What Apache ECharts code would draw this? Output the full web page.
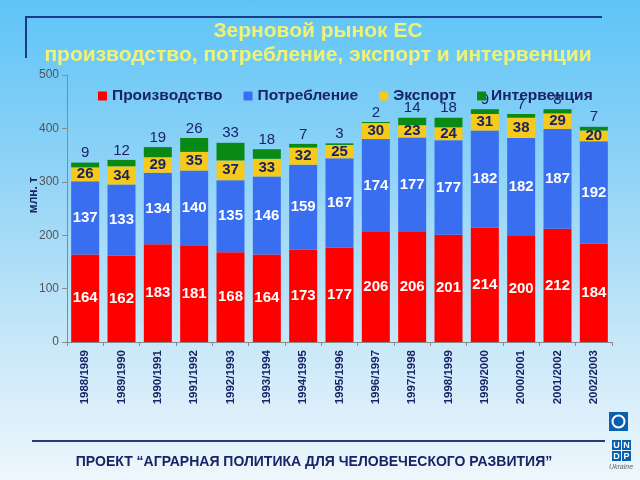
<!DOCTYPE html>
<html>
<head>
<meta charset="utf-8">
<script src="https://cdn.jsdelivr.net/npm/echarts@6/dist/echarts.min.js"></script>
<style>
html,body{margin:0;padding:0;}
#c{width:640px;height:480px;background:linear-gradient(to bottom,#5ec4f7 0%,#8fd3f6 35%,#c6e7f8 70%,#eef7fc 100%);}
</style>
</head>
<body>
<div id="c"></div>
<script>
const categories = ['1988/1989','1989/1990','1990/1991','1991/1992','1992/1993','1993/1994','1994/1995','1995/1996','1996/1997','1997/1998','1998/1999','1999/2000','2000/2001','2001/2002','2002/2003'];
const production   = [164,162,183,181,168,164,173,177,206,206,201,214,200,212,184];
const consumption  = [137,133,134,140,135,146,159,167,174,177,177,182,182,187,192];
const exportVals   = [26,34,29,35,37,33,32,25,30,23,24,31,38,29,20];
const intervention = [9,12,19,26,33,18,7,3,2,14,18,9,7,8,7];
const yTicks = [0,100,200,300,400,500];
const titleLines = ['Зерновой рынок ЕС','производство, потребление, экспорт и интервенции'];

const navy = '#1a2366';
const font = 'Liberation Sans, Arial, sans-serif';

const chart = echarts.init(document.getElementById('c'), null, {renderer:'canvas'});

function seriesDef(name, data, color, labelColor, pos) {
  return {
    name, type:'bar', stack:'t', data, barWidth:28,
    itemStyle:{color},
    label:{show:true, position:pos, color:labelColor, fontFamily:font,
      fontWeight: pos==='top' ? 'normal' : 'bold', fontSize:15,
      distance: 2}
  };
}

chart.setOption({
  backgroundColor:'transparent',
  animation:false,
  legend:{
    left:93, top:83, itemWidth:9, itemHeight:9, itemGap:21, icon:'rect',
    textStyle:{color:navy, fontFamily:font, fontWeight:'bold', fontSize:15.5},
    data:['Производство','Потребление','Экспорт','Интервенция']
  },
  grid:{left:67, right:28, top:75, bottom:138},
  xAxis:{
    type:'category', data:categories,
    axisLine:{lineStyle:{color:'#8a8a8a'}},
    axisTick:{show:true, length:4, lineStyle:{color:'#8a8a8a'}},
    axisLabel:{rotate:90, color:navy, fontFamily:font, fontWeight:'bold', fontSize:11.5, margin:8, interval:0}
  },
  yAxis:{
    type:'value', min:yTicks[0], max:yTicks[yTicks.length-1], interval:100,
    axisLine:{show:true, lineStyle:{color:'#8a8a8a'}},
    axisTick:{show:true, length:5, lineStyle:{color:'#8a8a8a'}},
    splitLine:{show:false},
    axisLabel:{color:'#555', fontFamily:font, fontSize:12, margin:8}
  },
  series:[
    seriesDef('Производство', production, '#ff0000', '#ffffff', 'inside'),
    seriesDef('Потребление', consumption, '#3a6ef0', '#ffffff', 'inside'),
    seriesDef('Экспорт', exportVals, '#f7c91a', navy, 'inside'),
    seriesDef('Интервенция', intervention, '#0a8a14', navy, 'top')
  ],
  graphic:[
    {type:'text', x:318, y:31, style:{text:titleLines[0], fill:'#f0f276', font:'bold 21px '+font, align:'center', verticalAlign:'middle'}},
    {type:'text', x:318, y:55, style:{text:titleLines[1], fill:'#f0f276', font:'bold 21px '+font, align:'center', verticalAlign:'middle'}},
    {type:'polyline', shape:{points:[[26,58],[26,17],[602,17]]}, style:{stroke:'#1a3a8a', lineWidth:2, fill:null}},
    {type:'line', shape:{x1:32, y1:441, x2:605, y2:441}, style:{stroke:'#2a3a7a', lineWidth:2}},
    {type:'text', x:34, y:195, rotation:Math.PI/2,
      style:{text:'млн. т', fill:navy, font:'bold 12px '+font, align:'center', verticalAlign:'middle'}},
    {type:'text', x:314, y:462,
      style:{text:'ПРОЕКТ “АГРАРНАЯ ПОЛИТИКА ДЛЯ ЧЕЛОВЕЧЕСКОГО РАЗВИТИЯ”', fill:navy, font:'bold 14px '+font, align:'center', verticalAlign:'middle'}},
    {type:'rect', shape:{x:609, y:412, width:19, height:19}, style:{fill:'#0a5fb0'}},
    {type:'circle', shape:{cx:618.5, cy:421.5, r:6}, style:{fill:'none', stroke:'#ffffff', lineWidth:2}},
    {type:'rect', shape:{x:612, y:440, width:9, height:10}, style:{fill:'#0a5fb0'}},
    {type:'rect', shape:{x:622, y:440, width:9, height:10}, style:{fill:'#0a5fb0'}},
    {type:'rect', shape:{x:612, y:451, width:9, height:10}, style:{fill:'#0a5fb0'}},
    {type:'rect', shape:{x:622, y:451, width:9, height:10}, style:{fill:'#0a5fb0'}},
    {type:'text', x:616.5, y:445.5, style:{text:'U', fill:'#fff', font:'bold 9px '+font, align:'center', verticalAlign:'middle'}},
    {type:'text', x:626.5, y:445.5, style:{text:'N', fill:'#fff', font:'bold 9px '+font, align:'center', verticalAlign:'middle'}},
    {type:'text', x:616.5, y:456.5, style:{text:'D', fill:'#fff', font:'bold 9px '+font, align:'center', verticalAlign:'middle'}},
    {type:'text', x:626.5, y:456.5, style:{text:'P', fill:'#fff', font:'bold 9px '+font, align:'center', verticalAlign:'middle'}},
    {type:'text', x:621, y:467, style:{text:'Ukraine', fill:'#666', font:'italic 7px '+font, align:'center', verticalAlign:'middle'}}
  ]
});
</script>
</body>
</html>
